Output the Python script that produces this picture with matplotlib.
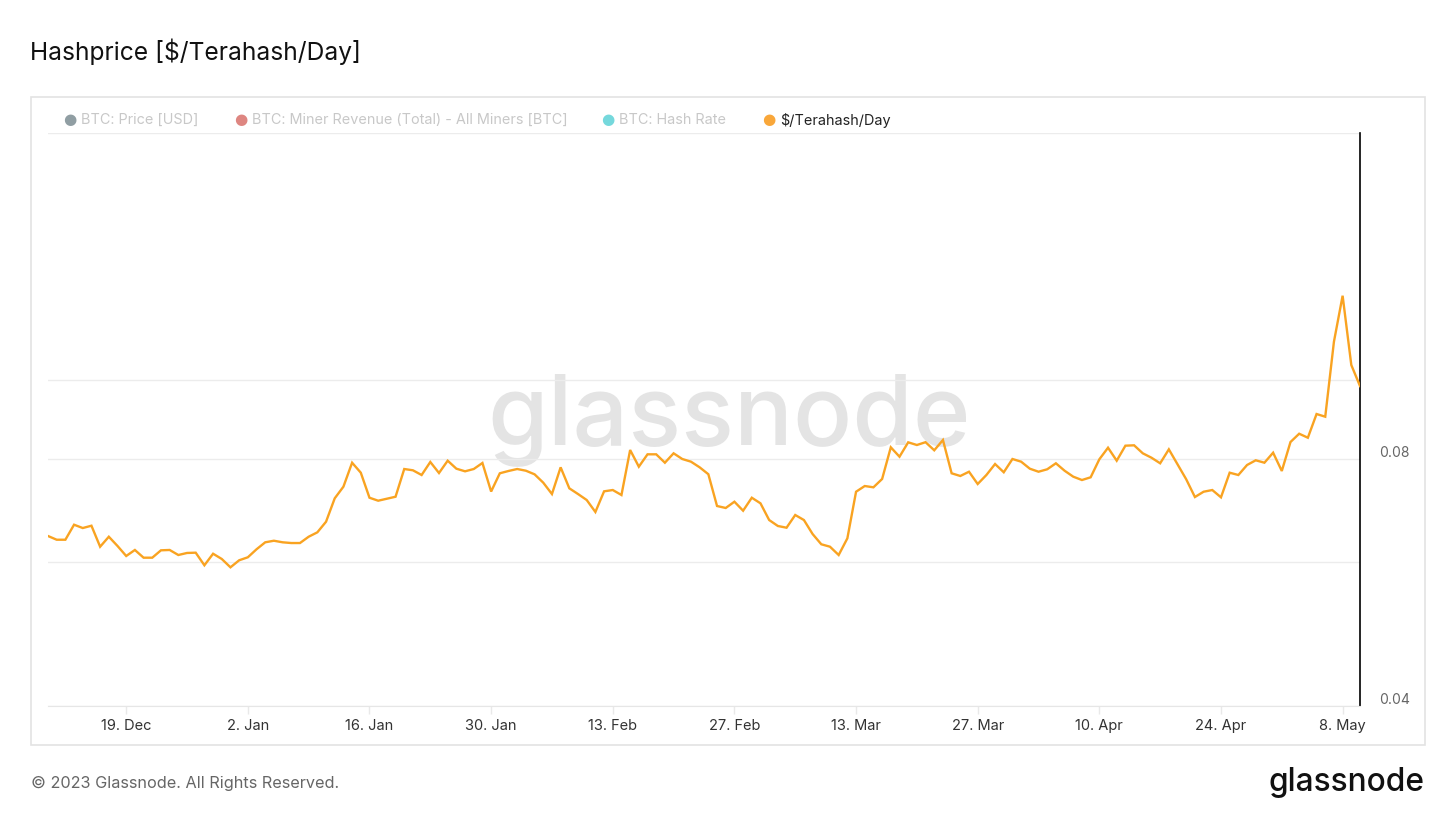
import numpy as np
import pandas as pd
import matplotlib
matplotlib.use('Agg')
import matplotlib.pyplot as plt
import matplotlib.dates as mdates
from matplotlib.patches import Rectangle
from matplotlib.transforms import ScaledTranslation

plt.rcParams['font.family'] = ['Inter', 'DejaVu Sans']

# daily hashprice values, 10 Dec 2022 .. 10 May 2023
start_date = '2022-12-10'
hashprice = [
    0.06448, 0.06381, 0.06381, 0.06656, 0.06594, 0.06637, 0.06257, 0.06435, 0.06270, 0.06096,
    0.06200, 0.06067, 0.06067, 0.06194, 0.06200, 0.06113, 0.06148, 0.06153, 0.05939, 0.06135,
    0.06045, 0.05905, 0.06023, 0.06074, 0.06212, 0.06335, 0.06363, 0.06335, 0.06322, 0.06322,
    0.06435, 0.06515, 0.06712, 0.07168, 0.07406, 0.07922, 0.07703, 0.07180, 0.07120, 0.07160,
    0.07200, 0.07783, 0.07755, 0.07653, 0.07938, 0.07696, 0.07967, 0.07790, 0.07733, 0.07783,
    0.07916, 0.07306, 0.07690, 0.07740, 0.07783, 0.07746, 0.07668, 0.07490, 0.07255, 0.07820,
    0.07372, 0.07255, 0.07134, 0.06898, 0.07310, 0.07337, 0.07235, 0.08210, 0.07834, 0.08111,
    0.08111, 0.07922, 0.08134, 0.08005, 0.07945, 0.07820, 0.07670, 0.07015, 0.06976, 0.07100,
    0.06923, 0.07180, 0.07068, 0.06744, 0.06632, 0.06600, 0.06840, 0.06744, 0.06484, 0.06300,
    0.06257, 0.06113, 0.06406, 0.07302, 0.07420, 0.07393, 0.07568, 0.08272, 0.08057, 0.08389,
    0.08326, 0.08392, 0.08203, 0.08444, 0.07690, 0.07632, 0.07724, 0.07462, 0.07653, 0.07893,
    0.07712, 0.08005, 0.07945, 0.07790, 0.07724, 0.07777, 0.07909, 0.07746, 0.07617, 0.07546,
    0.07604, 0.07998, 0.08263, 0.07967, 0.08310, 0.08319, 0.08134, 0.08034, 0.07909, 0.08225,
    0.07887, 0.07561, 0.07194, 0.07302, 0.07337, 0.07188, 0.07703, 0.07653, 0.07871, 0.07976,
    0.07922, 0.08148, 0.07740, 0.08396, 0.08594, 0.08498, 0.09083, 0.09015, 0.11128, 0.12663,
    0.10423, 0.09826,
]
dates = pd.date_range(start_date, periods=len(hashprice), freq='D')

legend_names = ['BTC: Price [USD]', 'BTC: Miner Revenue (Total) - All Miners [BTC]',
                'BTC: Hash Rate', '$/Terahash/Day']
legend_colors = ['#7d8d93', '#d9716b', '#5dd2d6', '#f9a73a']
legend_x = [70, 241, 608, 769]

y_grid = [0.04, 0.06, 0.08, 0.1, 0.2]
y_labels = ['0.04', '', '0.08', '', '']
x_ticks = pd.date_range('2022-12-19', '2023-05-08', freq='14D')

W, H = 1456, 819
fig = plt.figure(figsize=(W / 100, H / 100), dpi=100)
fig.patch.set_facecolor('white')

# outer panel
fig.patches.append(Rectangle((31 / W, 1 - 745 / H), (1425 - 31) / W, (745 - 97) / H,
                             transform=fig.transFigure, fill=False,
                             edgecolor='#e3e3e3', linewidth=1.2))

ax = fig.add_axes([48 / W, 1 - 706 / H, (1360 - 48) / W, (706 - 133) / H])
ax.plot(dates, hashprice, color='#f9a321', linewidth=1.7, solid_joinstyle='miter', zorder=3)

ax.set_yscale('log')
ax.set_ylim(0.04, 0.2)
ax.set_xlim(dates[0], dates[-1])
ax.yaxis.set_minor_locator(matplotlib.ticker.NullLocator())
ax.set_yticks(y_grid)
ax.set_yticklabels(y_labels)
ax.yaxis.tick_right()
ax.tick_params(axis='y', length=0, pad=13.5, labelsize=10, labelcolor='#666666')
for lbl in ax.get_yticklabels():
    lbl.set_horizontalalignment('left')
    lbl.set_transform(lbl.get_transform() + ScaledTranslation(0, 8 / 100, fig.dpi_scale_trans))
ax.grid(axis='y', color='#ececec', linewidth=1)

ax.set_xticks(x_ticks)
ax.xaxis.set_major_formatter(mdates.DateFormatter('%-d. %b'))
ax.tick_params(axis='x', length=6, width=1, color='#e9e9e9', pad=3.5,
               labelsize=10.5, labelcolor='#333333')

for s in ['top', 'left']:
    ax.spines[s].set_visible(False)
ax.spines['bottom'].set_color('#e6e6e6')
ax.spines['right'].set_color('#000000')
ax.spines['right'].set_linewidth(1.2)

# watermark
ax.text(0.519, 0.5, 'glassnode', transform=ax.transAxes, ha='center', va='center',
        fontsize=70.5, color='#e4e4e4', fontweight='medium', zorder=1)

# legend row
for x, name, col, i in zip(legend_x, legend_names, legend_colors, range(4)):
    fig.text(x / W, 1 - 120 / H, '\u25CF', color=col, fontsize=11, ha='center', va='center',
             family=['DejaVu Sans'], alpha=1.0 if i == 3 else 0.85)
    fig.text((x + 11) / W, 1 - 120 / H, name, fontsize=10.4, va='center',
             color='#222222' if i == 3 else '#c8c8c8')

fig.text(30 / W, 1 - 52 / H, 'Hashprice [$/Terahash/Day]', fontsize=17.7,
         color='#111111', va='center')
fig.text(31 / W, 1 - 783 / H, '\u00A9 2023 Glassnode. All Rights Reserved.', fontsize=11.7,
         color='#666666', va='center')
fig.text(1425 / W, 1 - 782 / H, 'glassnode', fontsize=22.8, color='#111111', ha='right',
         va='center', fontweight='medium')

fig.savefig('out.png', dpi=100, facecolor='white')
